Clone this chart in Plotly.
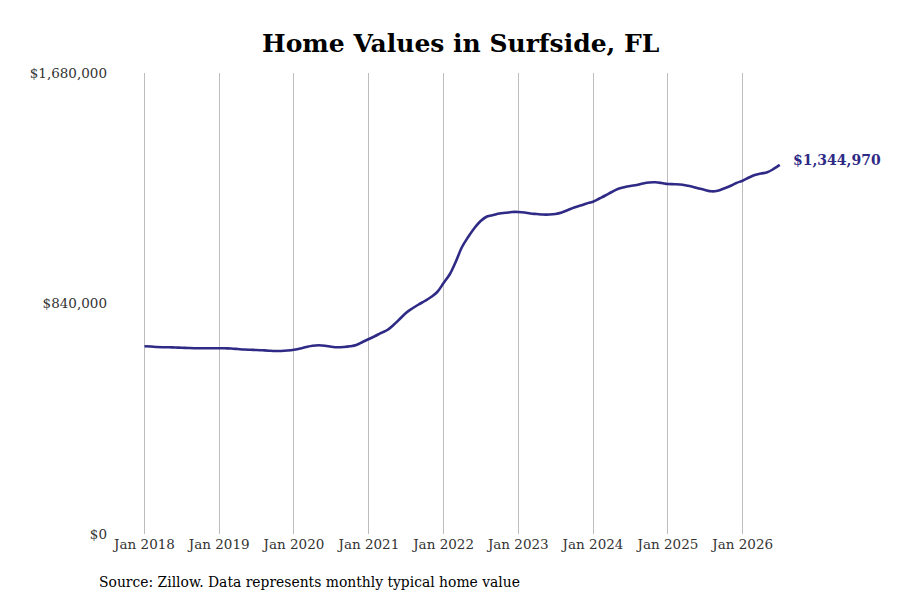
import pandas as pd
import plotly.graph_objects as go

# Monthly typical home value, Surfside FL
months = pd.date_range("2018-01-01", "2026-07-01", freq="MS")
values = [
    684000, 683300, 681500, 680700, 680400, 679600, 678900, 677800, 677100, 676700, 677100, 677100,
    677100, 676700, 676000, 674200, 672400, 671300, 670500, 669400, 668000, 666900, 666900, 668700,
    671600, 676000, 681500, 686200, 687700, 686200, 682600, 680400, 681500, 684000, 688800, 699700,
    710600, 721600, 732500, 743400, 761700, 783500, 805400, 821800, 836400, 849100, 863700, 881900,
    914700, 947500, 991200, 1045900, 1082300, 1115100, 1140600, 1157000, 1162500, 1168000, 1170500, 1173500,
    1173500, 1171600, 1168000, 1166200, 1164300, 1164300, 1166200, 1171600, 1180700, 1189800, 1197100, 1204400,
    1211000, 1222600, 1233600, 1246300, 1257300, 1263500, 1268200, 1271900, 1277300, 1281000, 1281700, 1279200,
    1275500, 1274800, 1273700, 1270000, 1265300, 1259100, 1253600, 1248900, 1251100, 1259100, 1268200, 1279200,
    1287500, 1299200, 1308300, 1313800, 1318100, 1330200, 1344970,
]
tick_dates = pd.date_range("2018-01-01", "2026-01-01", freq="YS")
tick_labels = [d.strftime("Jan %Y") for d in tick_dates]
y_ticks = [0, 840000, 1680000]

line_color = "#2e2a85"
font_family = "DejaVu Serif"

fig = go.Figure()
fig.add_trace(go.Scatter(
    x=months, y=values, mode="lines",
    line=dict(color=line_color, width=2.6, shape="spline"),
    hoverinfo="skip",
))

# label at the last point
fig.add_annotation(
    x=months[-1], y=values[-1], text="<b>${:,}</b>".format(values[-1]),
    showarrow=False, xanchor="left", yanchor="middle", xshift=11, yshift=5,
    font=dict(family=font_family, size=14, color=line_color),
)
fig.add_annotation(
    x=-0.023, y=-0.104, xref="paper", yref="paper",
    text="Source: Zillow. Data represents monthly typical home value",
    showarrow=False, xanchor="left", yanchor="middle",
    font=dict(family=font_family, size=13.9, color="#000000"),
)

fig.update_layout(
    width=900, height=600,
    margin=dict(l=106, r=56, t=65, b=74),
    paper_bgcolor="white", plot_bgcolor="white",
    showlegend=False,
    title=dict(text="<b>Home Values in Surfside, FL</b>", x=0.503, xanchor="center", y=0.942, yanchor="middle",
               font=dict(family=font_family, size=25, color="#000000")),
    font=dict(family=font_family),
)
fig.update_xaxes(
    range=["2017-08-05", "2027-06-19"],
    tickvals=tick_dates, ticktext=tick_labels,
    showgrid=True, gridcolor="#bdbdbd", gridwidth=1,
    showline=False, zeroline=False, ticks="",
    tickfont=dict(family=font_family, size=13.5, color="#333333"),
)
fig.update_yaxes(
    range=[0, 1680000],
    tickvals=y_ticks, ticktext=["${:,}".format(v) for v in y_ticks],
    showgrid=False, zeroline=False, showline=False, ticks="",
    ticklabelstandoff=6,
    tickfont=dict(family=font_family, size=13.5, color="#333333"),
)

fig.write_html("out.html")
